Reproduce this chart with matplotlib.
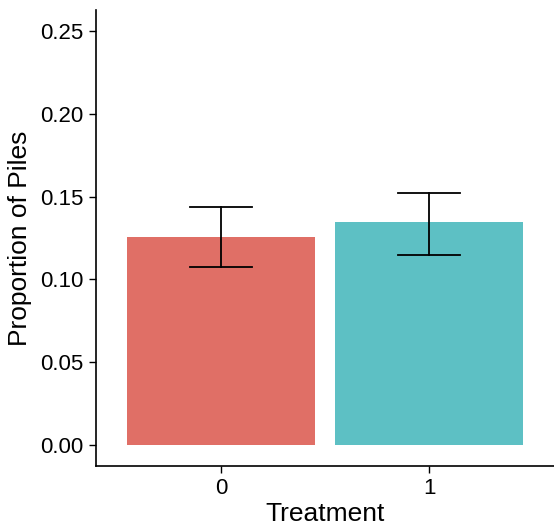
import matplotlib
matplotlib.use("Agg")
import matplotlib.pyplot as plt

categories = ["0", "1"]
proportions = [0.1257, 0.1345]
err_low = [0.1077, 0.1150]
err_high = [0.1434, 0.1519]
bar_colors = ["#E06F66", "#5DC0C4"]
yticks = [0.00, 0.05, 0.10, 0.15, 0.20, 0.25]

plt.rcParams['font.family'] = ['Liberation Sans', 'DejaVu Sans']

fig = plt.figure(figsize=(5.54, 5.27), dpi=100)
ax = fig.add_axes([96/554, 1 - 466/527, 1 - 96/554, (466 - 10)/527])

x = list(range(len(categories)))
ax.bar(x, proportions, width=0.9, color=bar_colors, zorder=2)
for xi, lo, hi in zip(x, err_low, err_high):
    ax.plot([xi, xi], [lo, hi], color="black", lw=1.3, zorder=3)
    ax.plot([xi - 0.15, xi + 0.15], [lo, lo], color="black", lw=1.3, zorder=3)
    ax.plot([xi - 0.15, xi + 0.15], [hi, hi], color="black", lw=1.3, zorder=3)

ax.set_xlim(-0.6, 1.6)
ax.set_ylim(-0.0125, 0.2625)
ax.set_xticks(x)
ax.set_xticklabels(categories)
ax.set_yticks(yticks)
ax.set_yticklabels([f"{v:.2f}" for v in yticks])
ax.tick_params(axis="both", labelsize=16, length=5, width=1, pad=4, colors="black")
for s in ["top", "right"]:
    ax.spines[s].set_visible(False)
for s in ["left", "bottom"]:
    ax.spines[s].set_linewidth(1.2)
ax.set_xlabel("Treatment", fontsize=19, labelpad=2)
ax.set_ylabel("Proportion of Piles", fontsize=19, labelpad=6)

fig.savefig("out.png", dpi=100)
